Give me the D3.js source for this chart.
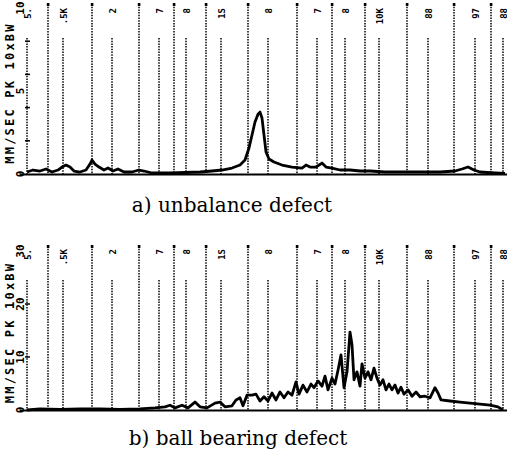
<!DOCTYPE html>
<html>
<head>
  <meta charset="utf-8">
  <style>
    body { margin: 0; background: #fff; }
    .trace { fill: none; stroke: #000; stroke-width: 2.8px; stroke-linejoin: round; }
    .grid { stroke: #000; stroke-width: 1.5px; stroke-dasharray: 1.5,1.2; }
    .lab { font-family: "DejaVu Sans Mono", monospace; font-weight: bold; font-size: 9px; }
    .ytitle { font-family: "DejaVu Sans Mono", monospace; font-weight: bold; font-size: 12px; letter-spacing: 2.2px; }
    .caption { font-family: "DejaVu Serif", serif; font-size: 20px; }
  </style>
</head>
<body>
  <div id="chart"></div>
  <script src="https://cdn.jsdelivr.net/npm/d3@7"></script>
  <script>
    // frequency positions (arbitrary analyser units, 0..480)
    var labelFreqs = [0, 36, 85, 132, 159, 194, 241, 290, 318, 352, 401, 448, 476];
    var labelTexts = ['5.', '.5K', '2', '7', '8', '1S', '8', '7', '8', '10K', '88', '97', '88'];
    var markerFreqs = [21, 65, 112, 147, 179, 221, 270, 305, 338, 380, 427, 464];

    // a) unbalance defect  [freq, mm/sec]
    var unbalance = [
      [0, 0.12], [6, 0.24], [13, 0.18], [19, 0.3], [25, 0.12], [31, 0.24], [35, 0.42], [39, 0.54],
      [43, 0.42], [47, 0.18], [53, 0.12], [59, 0.24], [63, 0.6], [65, 0.84], [68, 0.6], [72, 0.42],
      [77, 0.24], [81, 0.36], [86, 0.18], [91, 0.3], [97, 0.12], [105, 0.12], [112, 0.24], [117, 0.18],
      [125, 0.06], [143, 0.06], [158, 0.09], [173, 0.12], [185, 0.18], [195, 0.24], [205, 0.36],
      [213, 0.54], [218, 0.84], [222, 1.57], [225, 2.35], [228, 3.13], [231, 3.6], [233, 3.73],
      [235, 3.37], [237, 2.35], [239, 1.33], [242, 0.9], [247, 0.72], [255, 0.54], [265, 0.42],
      [275, 0.36], [279, 0.54], [283, 0.42], [289, 0.42], [295, 0.66], [299, 0.42], [305, 0.36],
      [313, 0.24], [323, 0.24], [333, 0.18], [343, 0.18], [358, 0.12], [373, 0.12], [393, 0.12],
      [413, 0.12], [428, 0.18], [435, 0.3], [441, 0.42], [447, 0.24], [453, 0.12], [468, 0.06], [478, 0.03]
    ];

    // b) ball bearing defect
    var bearing = [
      [0, 0], [13, 0.2], [33, 0.1], [53, 0.2], [73, 0.2], [93, 0.1], [113, 0.2], [128, 0.4], [138, 0.6],
      [143, 0.9], [148, 0.4], [155, 0.9], [161, 0.4], [168, 1.5], [173, 0.6], [180, 0.4], [188, 1.3],
      [193, 1.5], [198, 0.6], [205, 0.8], [209, 1.9], [213, 2.3], [216, 0.8], [220, 2.8], [225, 2.8],
      [229, 3.0], [233, 1.7], [237, 2.5], [241, 1.7], [245, 3.2], [249, 1.9], [253, 3.4], [257, 2.3],
      [261, 3.4], [265, 2.8], [269, 5.3], [272, 3.0], [276, 4.7], [280, 3.4], [284, 4.9], [287, 4.2],
      [291, 5.5], [295, 4.5], [298, 6.4], [301, 3.8], [305, 6.0], [308, 4.9], [311, 7.5], [314, 10.4],
      [317, 4.2], [320, 7.2], [323, 14.7], [325, 12.3], [327, 5.7], [330, 7.2], [333, 4.5], [335, 8.7],
      [338, 6.0], [341, 7.2], [344, 5.7], [347, 7.9], [350, 6.0], [353, 4.7], [356, 5.7], [359, 3.8],
      [362, 4.9], [365, 3.8], [368, 4.7], [371, 3.2], [374, 4.3], [377, 3.0], [381, 3.8], [385, 2.6],
      [389, 3.4], [393, 2.5], [398, 2.6], [403, 2.3], [408, 4.2], [411, 3.2], [414, 1.9], [423, 1.7],
      [433, 1.5], [443, 1.3], [453, 1.1], [463, 0.9], [471, 0.6], [476, 0]
    ];

    var panels = [
      { data: unbalance, yMax: 10, yTicks: [0, 5, 10], minor: [2, 4, 6, 8], top: 8, base: 174,
        lineTop: 4, shortTop: 38, labelY: 8, caption: 'a) unbalance defect', capX: 232, capY: 212 },
      { data: bearing, yMax: 30, yTicks: [0, 10, 20, 30], minor: [10, 20], top: 251, base: 410,
        lineTop: 246, shortTop: 280, labelY: 249, caption: 'b) ball bearing defect', capX: 238, capY: 445 }
    ];

    var width = 507, height = 456;
    var svg = d3.select('#chart').append('svg')
      .attr('width', width)
      .attr('height', height);

    var x = d3.scaleLinear().domain([0, 480]).range([27, 507]);

    panels.forEach(function (p) {
      var y = d3.scaleLinear().domain([0, p.yMax]).range([p.base, p.top]);
      var g = svg.append('g');

      // marker lines (full height)
      g.selectAll('.mk').data(markerFreqs).enter().append('line')
        .attr('class', 'grid')
        .attr('x1', function (d) { return x(d); })
        .attr('x2', function (d) { return x(d); })
        .attr('y1', p.lineTop)
        .attr('y2', p.base);
      g.selectAll('.mkcap').data(markerFreqs).enter().append('rect')
        .attr('x', function (d) { return x(d) - 1.2; })
        .attr('y', p.lineTop - 1)
        .attr('width', 2.6).attr('height', 3);

      // labelled lines (shorter)
      g.selectAll('.sl').data(labelFreqs).enter().append('line')
        .attr('class', 'grid')
        .attr('x1', function (d) { return x(d); })
        .attr('x2', function (d) { return x(d); })
        .attr('y1', p.shortTop)
        .attr('y2', p.base);
      g.selectAll('.lt').data(labelFreqs).enter().append('text')
        .attr('class', 'lab')
        .attr('text-anchor', 'end')
        .attr('transform', function (d) { return 'translate(' + (x(d) + 3.5) + ',' + p.labelY + ') rotate(-90)'; })
        .text(function (d, i) { return labelTexts[i]; });

      // y-axis minor ticks
      g.selectAll('.mt').data(p.minor).enter().append('line')
        .attr('x1', x(0) - 2).attr('x2', x(0) + 3)
        .attr('y1', function (d) { return y(d); })
        .attr('y2', function (d) { return y(d); })
        .attr('stroke', '#000').attr('stroke-width', 1.5);

      // y tick labels (rotated)
      g.selectAll('.yl').data(p.yTicks).enter().append('text')
        .attr('class', 'lab')
        .style('font-size', '11px')
        .attr('text-anchor', 'middle')
        .attr('transform', function (d) { return 'translate(' + 24 + ',' + y(d) + ') rotate(-90)'; })
        .text(function (d) { return d; });

      // y title
      g.append('text')
        .attr('class', 'ytitle')
        .attr('text-anchor', 'middle')
        .attr('transform', 'translate(14,' + ((p.base + p.top) / 2 + 2) + ') rotate(-90)')
        .text('MM/SEC PK 10xBW');

      // baseline
      g.append('line')
        .attr('x1', 20).attr('x2', width)
        .attr('y1', p.base + 0.5).attr('y2', p.base + 0.5)
        .attr('stroke', '#000').attr('stroke-width', 2.2);

      // spectrum trace
      var line = d3.line()
        .x(function (d) { return x(d[0]); })
        .y(function (d) { return y(d[1]); });
      g.append('path')
        .datum(p.data)
        .attr('class', 'trace')
        .attr('d', line);

      // caption
      svg.append('text')
        .attr('class', 'caption')
        .attr('x', p.capX)
        .attr('y', p.capY)
        .attr('text-anchor', 'middle')
        .text(p.caption);
    });
  </script>
</body>
</html>
